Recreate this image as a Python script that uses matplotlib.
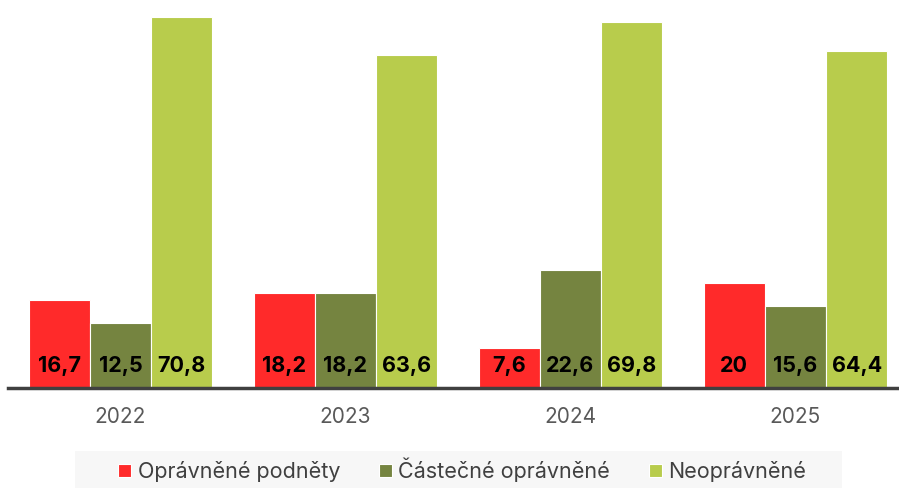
import matplotlib.pyplot as plt
import matplotlib.patches as mpatches
import numpy as np

plt.rcParams['font.family'] = ['Inter', 'DejaVu Sans']

years = ['2022', '2023', '2024', '2025']
opravnene = [16.7, 18.2, 7.6, 20]
castecne = [12.5, 18.2, 22.6, 15.6]
neopravnene = [70.8, 63.6, 69.8, 64.4]

series = [
    ('Oprávněné podněty', opravnene, '#FF2A2A'),
    ('Částečné oprávněné', castecne, '#758440'),
    ('Neoprávněné', neopravnene, '#B8CC4C'),
]

W, H = 899, 488
fig = plt.figure(figsize=(W / 100, H / 100), dpi=100)
# axes: left edge at x=8, one category = 225 px, baseline at y=388
ymax = 72
px_per_unit = 5.24
ax = fig.add_axes([8 / W, (H - 388) / H, 900 / W, ymax * px_per_unit / H])

x = np.arange(len(years))
bw = 0.272
for i, (name, vals, col) in enumerate(series):
    pos = x + (i - 1) * bw
    ax.bar(pos, vals, width=bw, color=col, edgecolor='#FFFFFF', linewidth=0.8, label=name)
    for p, v in zip(pos, vals):
        txt = f'{v:g}'.replace('.', ',')
        ax.text(p, 3.1, txt, ha='center', va='baseline', fontsize=15.5,
                fontweight='bold', color='black')

ax.set_xlim(-0.5, 3.5)
ax.set_ylim(0, ymax)
ax.set_xticks(x)
ax.set_xticklabels(years, fontsize=15, color='#595959')
ax.tick_params(axis='x', length=0, pad=14)
ax.set_yticks([])
for s in ['top', 'right', 'left']:
    ax.spines[s].set_visible(False)
ax.spines['bottom'].set_color('#404040')
ax.spines['bottom'].set_linewidth(2.5)

# legend background box
fig.patches.append(mpatches.Rectangle((75 / W, 0), 767 / W, 37 / H,
                                      transform=fig.transFigure,
                                      facecolor='#F7F7F7', edgecolor='none'))
fig.legend(loc='center', bbox_to_anchor=(462 / W, (H - 470) / H), ncol=3,
           frameon=False, fontsize=15.5, handlelength=0.6, handleheight=0.6,
           handletextpad=0.3, columnspacing=1.8, labelcolor='#404040')

fig.savefig('out.png', dpi=100)
